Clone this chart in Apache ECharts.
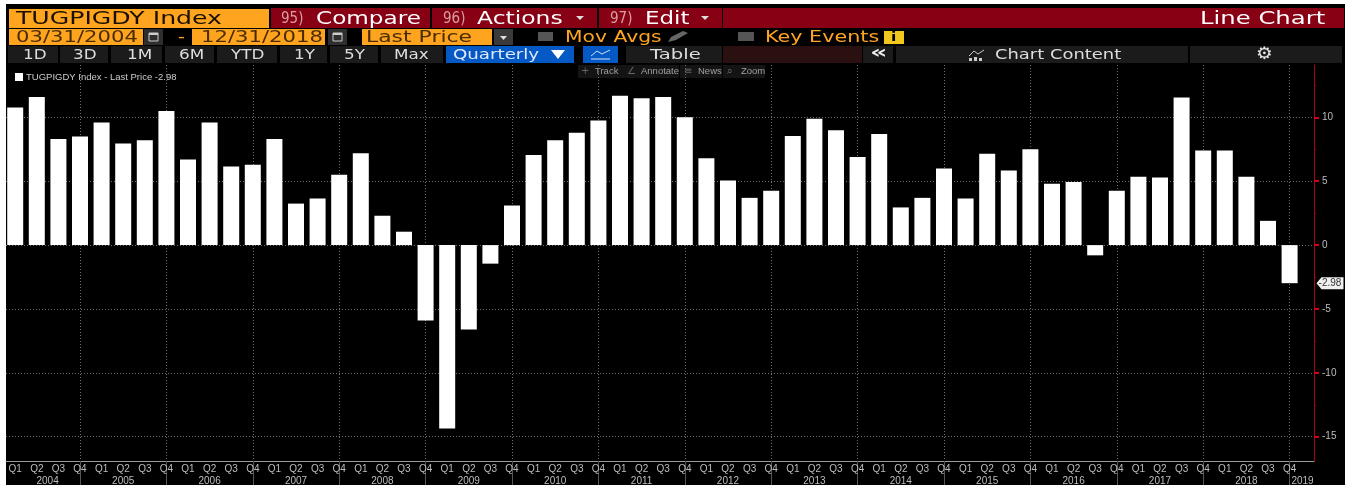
<!DOCTYPE html>
<html>
<head>
<meta charset="utf-8">
<title>TUGPIGDY Index</title>
<script src="https://cdn.jsdelivr.net/npm/echarts@6/dist/echarts.min.js"></script>
<style>
html, body { margin: 0; padding: 0; background: #fff; }
#chart { width: 1348px; height: 486px; }
</style>
</head>
<body>
<div id="chart"></div>
<script>
var quarters = ['Q1', 'Q2', 'Q3', 'Q4'];
var years = ['2004', '2005', '2006', '2007', '2008', '2009', '2010', '2011', '2012', '2013', '2014', '2015', '2016', '2017', '2018', '2019'];
var values = [
    10.77, 11.6, 8.3, 8.5,
    9.6, 7.95, 8.2, 10.5,
    6.7, 9.6, 6.15, 6.3,
    8.3, 3.25, 3.65, 5.5,
    7.2, 2.3, 1.05, -5.9,
    -14.35, -6.6, -1.45, 3.1,
    7.05, 8.2, 8.8, 9.75,
    11.7, 11.5, 11.6, 10,
    6.8, 5.05, 3.7, 4.25,
    8.55, 9.9, 9.0, 6.9,
    8.7, 2.95, 3.7, 6.0,
    3.65, 7.15, 5.85, 7.5,
    4.8, 4.95, -0.8, 4.25,
    5.35, 5.3, 11.55, 7.4,
    7.4, 5.35, 1.9, -2.98
];
var yMajorTicks = [-15, -10, -5, 0, 5, 10];
var yMinorTicks = [-12.5, -7.5, -2.5, 2.5, 7.5, 12.5];

var seriesName = 'TUGPIGDY Index - Last Price ' + values[values.length - 1];
var xMin = 0.574, xMax = 61.13;
var yMin = -16.9, yMax = 14.1;

// x position of each quarter is just its running number, year splits fall on multiples of 4
var barData = values.map(function(v, i) { return [i + 1, v]; });
var quarterPos = values.map(function(v, i) { return i + 1; });
var yearSplits = [];
for (var n = 4; n <= values.length; n += 4) yearSplits.push(n);
var yearPos = years.map(function(v, i) {
    if (i === 0) return 2.5;
    if (i === years.length - 1) return 60.6;
    return 4 * i + 2;
});

var ORANGE = '#ffa41f', RED = '#880014', DARK = '#1b1b1b', BLUE = '#0559c4';
var WIDE = '"DejaVu Sans"';
var chrome = [];

function box(x, y, w, h, fill) {
    chrome.push({ type: 'rect', silent: true, shape: { x: x, y: y, width: w, height: h }, style: { fill: fill } });
}
function txt(s, x, cy, size, color, sx) {
    chrome.push({
        type: 'text', silent: true, x: x, y: cy, scaleX: sx || 1,
        style: { text: s, fill: color, font: size + 'px ' + WIDE, align: 'left', verticalAlign: 'middle' }
    });
}
function poly(points, fill) {
    chrome.push({ type: 'polygon', silent: true, shape: { points: points }, style: { fill: fill } });
}
function stroke(points, color) {
    chrome.push({ type: 'polyline', silent: true, shape: { points: points }, style: { stroke: color, lineWidth: 1, fill: null } });
}
function calendar(x) {
    box(x, 29, 19, 16, '#2e2e2e');
    chrome.push({ type: 'rect', silent: true, shape: { x: x + 5, y: 33, width: 9, height: 8 }, style: { fill: 'none', stroke: '#ccc', lineWidth: 1 } });
    box(x + 5, 33, 9, 2, '#ccc');
}

// panel
box(6, 4, 1339, 481, '#000');

// row 1
box(9, 9, 260, 19, ORANGE);
txt('TUGPIGDY Index', 16, 19.5, 17, '#1a1000', 1.48);
box(271, 8, 159, 20, RED);
txt('95)', 281, 19, 15, '#d8a0a0', 0.9);
txt('Compare', 316, 19.5, 17, '#fff', 1.36);
box(432, 8, 165, 20, RED);
txt('96)', 443, 19, 15, '#d8a0a0', 0.9);
txt('Actions', 477, 19.5, 17, '#fff', 1.38);
poly([[576, 16], [584, 16], [580, 20]], '#ddd');
box(599, 8, 123, 20, RED);
txt('97)', 610, 19, 15, '#d8a0a0', 0.9);
txt('Edit', 645, 19.5, 17, '#fff', 1.35);
poly([[701, 16], [709, 16], [705, 20]], '#ddd');
box(723, 8, 621, 20, RED);
txt('Line Chart', 1200, 19.5, 17, '#fff', 1.43);

// row 2
box(9, 29, 134, 16, ORANGE);
txt('03/31/2004', 16, 38, 15, '#4a2c00', 1.41);
calendar(144);
txt('-', 178, 38, 15, ORANGE, 1.3);
box(192, 29, 133, 16, ORANGE);
txt('12/31/2018', 201, 38, 15, '#4a2c00', 1.41);
calendar(328);
box(362, 29, 130, 16, ORANGE);
txt('Last Price', 366, 38, 15, '#4a2c00', 1.46);
box(494, 29, 19, 16, '#3a3a3a');
poly([[500, 36], [507, 36], [503.5, 40]], '#ddd');
box(538, 32, 15, 9, '#555');
txt('Mov Avgs', 565, 38, 15, ORANGE, 1.355);
poly([[668, 42], [671, 37], [683, 31], [688, 33], [676, 40]], '#666');
box(738, 32, 16, 9, '#555');
txt('Key Events', 765, 38, 15, ORANGE, 1.38);
box(884, 31, 20, 13, '#f2c81e');
txt('i', 891, 37.5, 'bold 13', '#000', 1.2);

// row 3
var rangeButtons = [
    ['1D', 8, 50, 23], ['3D', 60, 48, 73], ['1M', 111, 51, 127], ['6M', 165, 49, 179],
    ['YTD', 217, 60, 231], ['1Y', 280, 47, 294], ['5Y', 330, 48, 344], ['Max', 381, 62, 394]
];
rangeButtons.forEach(function(b) {
    box(b[1], 46, b[2], 17, DARK);
    txt(b[0], b[3], 55.5, 14, '#ddd', 1.2);
});
box(446, 46, 128, 17, BLUE);
txt('Quarterly', 453, 55.5, 14, '#dfe8ff', 1.3);
poly([[551, 50], [565, 50], [558, 59]], '#fff');
box(583, 46, 35, 17, BLUE);
stroke([[591, 56], [597, 51], [602, 54], [610, 50]], '#cfe0ff');
stroke([[591, 59], [610, 59]], '#cfe0ff');
box(626, 46, 96, 17, DARK);
txt('Table', 650, 55.5, 14, '#ddd', 1.4);
box(723, 46, 139, 17, '#2a1010');
box(863, 46, 30, 17, DARK);
txt('\u00ab', 870, 53.5, 'bold 18', '#eee', 1.5);
box(896, 46, 292, 17, DARK);
stroke([[969, 56], [974, 51], [978, 54], [984, 50]], '#ccc');
box(969, 58, 3, 3, '#ccc'); box(974, 57, 3, 4, '#ccc'); box(979, 58, 3, 3, '#ccc');
txt('Chart Content', 995, 55.5, 14, '#ddd', 1.28);
box(1190, 46, 152, 17, DARK);
txt('\u2699', 1256, 54.5, 'bold 17', '#e4e4e4', 1.1);

// floating mini toolbar over the plot
var miniTools = [
    ['Track', 578, 43, 595, '+'], ['Annotate', 621, 58, 641, '\u2220'], ['News', 680, 42, 698, '\u2261'], ['Zoom', 723, 42, 741, '\u2315']
];
miniTools.forEach(function(t) {
    box(t[1], 65, t[2], 13, '#141414');
    chrome.push({
        type: 'text', silent: true, x: t[3] - 14, y: 71.5,
        style: { text: t[4], fill: '#666', font: '10px ' + WIDE, align: 'left', verticalAlign: 'middle' }
    });
    chrome.push({
        type: 'text', silent: true, x: t[3], y: 71.5,
        style: { text: t[0], fill: '#a0a0a0', font: '9.5px "Liberation Sans"', align: 'left', verticalAlign: 'middle' }
    });
});

var gridLine = { show: true, lineStyle: { color: '#6e6e6e', type: [1, 2], width: 1 } };
var smallLabel = { color: '#bdbdbd', fontFamily: '"Liberation Sans"', fontSize: 10 };

var option = {
    backgroundColor: 'transparent',
    animation: false,
    grid: { left: 6, right: 34, top: 65, bottom: 25 },
    legend: {
        show: true, left: 15, top: 72, padding: 0,
        itemWidth: 8, itemHeight: 8, itemGap: 4, icon: 'rect',
        textStyle: { color: '#ccc', fontFamily: '"Liberation Sans"', fontSize: 9.5, padding: [0, 0, 0, -2] },
        data: [seriesName]
    },
    xAxis: [
        {
            // quarter labels
            type: 'value', min: xMin, max: xMax, position: 'bottom', scale: true,
            axisLine: { show: true, onZero: false, lineStyle: { color: '#9a9a9a' } },
            axisTick: { show: false },
            splitLine: { show: false },
            axisLabel: {
                show: true, customValues: quarterPos, margin: 3, color: smallLabel.color,
                fontFamily: smallLabel.fontFamily, fontSize: smallLabel.fontSize,
                hideOverlap: false, showMinLabel: true, showMaxLabel: true,
                formatter: function(v) { return quarters[(Math.round(v) - 1) % 4]; }
            }
        },
        {
            // year separators and year labels
            type: 'value', min: xMin, max: xMax, position: 'bottom', scale: true,
            axisLine: { show: false, onZero: false },
            axisTick: { show: true, customValues: yearSplits, length: 24, lineStyle: { color: '#555' } },
            splitLine: gridLine,
            axisLabel: {
                show: true, customValues: yearPos, margin: 15, color: smallLabel.color,
                fontFamily: smallLabel.fontFamily, fontSize: smallLabel.fontSize,
                hideOverlap: false, showMinLabel: true, showMaxLabel: true,
                formatter: function(v) { return years[yearPos.indexOf(v)]; }
            }
        }
    ],
    yAxis: [
        {
            type: 'value', min: yMin, max: yMax, position: 'right', scale: true,
            axisLine: { show: true, onZero: false, lineStyle: { color: '#a80018', width: 1 } },
            axisTick: { show: true, customValues: yMajorTicks, length: 5, inside: false, lineStyle: { color: '#d0001c', width: 2 } },
            splitLine: gridLine,
            axisLabel: {
                show: true, customValues: yMajorTicks, margin: 8, color: smallLabel.color,
                fontFamily: smallLabel.fontFamily, fontSize: smallLabel.fontSize
            }
        },
        {
            // short unlabelled ticks between the major ones
            type: 'value', min: yMin, max: yMax, position: 'right', scale: true,
            axisLine: { show: false, onZero: false },
            axisTick: { show: true, customValues: yMinorTicks, length: 2, lineStyle: { color: '#a80018' } },
            splitLine: { show: false },
            axisLabel: { show: false }
        }
    ],
    series: [{
        name: seriesName,
        type: 'bar',
        xAxisIndex: 0,
        yAxisIndex: 0,
        barWidth: 16,
        z: 3,
        itemStyle: { color: '#fff' },
        data: barData,
        markPoint: {
            silent: true,
            symbol: 'path://M0 6L5 0H27V12H5Z',
            symbolSize: [27, 12],
            symbolOffset: [16, 0],
            symbolKeepAspect: false,
            itemStyle: { color: '#efefef' },
            label: {
                show: true, position: 'inside', color: '#333',
                fontFamily: smallLabel.fontFamily, fontSize: 10,
                formatter: function() { return String(values[values.length - 1]); }
            },
            data: [{ coord: [xMax, values[values.length - 1]] }]
        }
    }],
    graphic: { elements: chrome }
};

var myChart = echarts.init(document.getElementById('chart'));
myChart.setOption(option);
</script>
</body>
</html>
